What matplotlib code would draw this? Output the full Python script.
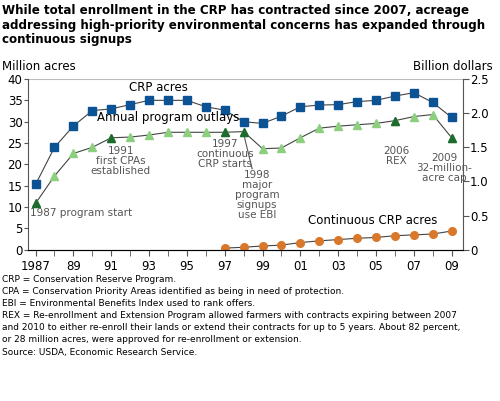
import numpy as np
import matplotlib.pyplot as plt

years = np.arange(1987, 2010)
crp_acres = [15.3, 24.0, 29.0, 32.6, 33.0, 34.0, 35.0, 35.0, 35.0, 33.5, 32.7, 30.0,
             29.6, 31.3, 33.5, 33.9, 34.0, 34.7, 35.0, 36.0, 36.8, 34.5, 31.0]
outlays = [0.68, 1.08, 1.41, 1.50, 1.64, 1.65, 1.68, 1.72, 1.72, 1.72, 1.72, 1.73,
           1.48, 1.49, 1.64, 1.78, 1.81, 1.83, 1.85, 1.89, 1.95, 1.98, 1.64]
cont_years = np.arange(1997, 2010)
cont_acres = [0.4, 0.6, 0.9, 1.1, 1.7, 2.1, 2.4, 2.7, 2.9, 3.3, 3.5, 3.7, 4.4]
key_years = [1987, 1991, 1997, 1998, 2006, 2009]
xtick_labels = ['1987', '89', '91', '93', '95', '97', '99', '01', '03', '05', '07', '09']

BLUE = '#0b5394'
LGREEN = '#8ccf7e'
DGREEN = '#1e6b2e'
ORANGE = '#d9782a'
GRAY = '#555555'

fig = plt.figure(figsize=(5.0, 4.01), dpi=100)
ax = fig.add_axes([0.056, 0.377, 0.87, 0.426])
ax2 = ax.twinx()

ax.plot(years, crp_acres, color='#444444', lw=0.8, marker='s', ms=5.5,
        mfc=BLUE, mec=BLUE, zorder=3)
ax.plot(cont_years, cont_acres, color='#444444', lw=0.8, marker='o', ms=5.5,
        mfc=ORANGE, mec=ORANGE, zorder=3)
ax2.plot(years, outlays, color='#444444', lw=0.8, marker='^', ms=5.5,
         mfc=LGREEN, mec=LGREEN, zorder=3)
idx = [list(years).index(y) for y in key_years]
ax2.plot(key_years, [outlays[i] for i in idx], ls='none', marker='^', ms=5.5,
         mfc=DGREEN, mec=DGREEN, zorder=4)

ax.set_xlim(1986.6, 2009.6)
ax.set_ylim(0, 40)
ax2.set_ylim(0, 2.5)
ax.set_yticks(range(0, 41, 5))
ax2.set_yticks([0, 0.5, 1.0, 1.5, 2.0, 2.5])
ax2.set_yticklabels(['0', '0.5', '1.0', '1.5', '2.0', '2.5'])
ax.set_xticks(range(1987, 2010, 2))
ax.set_xticklabels(xtick_labels)
ax.set_xticks(range(1988, 2010, 2), minor=True)
ax.axhline(40, color='#bbbbbb', lw=1.5, zorder=1)

for a in (ax, ax2):
    for s in ['top', 'right', 'left']:
        a.spines[s].set_visible(False)
    a.tick_params(labelsize=8.5, colors='black', length=4, width=0.8)
ax.spines['bottom'].set_color(GRAY)
ax.spines['left'].set_visible(True)
ax.spines['left'].set_color(GRAY)
ax.tick_params(axis='y', length=3, pad=1, color=GRAY)
ax.tick_params(axis='x', which='both', length=4, color=GRAY)
ax2.spines['right'].set_visible(True)
ax2.spines['right'].set_color(GRAY)
ax2.tick_params(axis='y', length=4, pad=1, color=GRAY)

ax.text(1993.5, 37.3, 'CRP acres', fontsize=8.5, ha='center')
ax.text(1994.0, 30.2, 'Annual program outlays', fontsize=8.5, ha='center')
ax.text(2004.8, 6.0, 'Continuous CRP acres', fontsize=8.5, ha='center')
ann = dict(fontsize=7.5, color=GRAY, ha='center', va='top', linespacing=1.0)
ax.text(1989.4, 9.9, '1987 program start', **ann)
ax.text(1991.5, 24.3, '1991\nfirst CPAs\nestablished', **ann)
ax.text(1997.0, 26.0, '1997\ncontinuous\nCRP starts', **ann)
ax.text(1998.7, 18.8, '1998\nmajor\nprogram\nsignups\nuse EBI', **ann)
ax.plot([1998.0, 1998.45], [27.2, 19.0], color=GRAY, lw=0.8)
ax.text(2006.1, 24.3, '2006\nREX', **ann)
ax.text(2008.6, 22.6, '2009\n32-million-\nacre cap', **ann)

fig.text(0.005, 0.99, 'While total enrollment in the CRP has contracted since 2007, acreage\n'
         'addressing high-priority environmental concerns has expanded through\n'
         'continuous signups', fontsize=8.6, fontweight='bold', va='top', linespacing=1.15)
fig.text(0.005, 0.818, 'Million acres', fontsize=8.5, va='bottom')
fig.text(0.985, 0.818, 'Billion dollars', fontsize=8.5, va='bottom', ha='right')
fig.text(0.005, 0.315,
         'CRP = Conservation Reserve Program.\n'
         'CPA = Conservation Priority Areas identified as being in need of protection.\n'
         'EBI = Environmental Benefits Index used to rank offers.\n'
         'REX = Re-enrollment and Extension Program allowed farmers with contracts expiring between 2007\n'
         'and 2010 to either re-enroll their lands or extend their contracts for up to 5 years. About 82 percent,\n'
         'or 28 million acres, were approved for re-enrollment or extension.\n'
         'Source: USDA, Economic Research Service.',
         fontsize=6.5, va='top', linespacing=1.45)

fig.savefig('out.png', dpi=100)
